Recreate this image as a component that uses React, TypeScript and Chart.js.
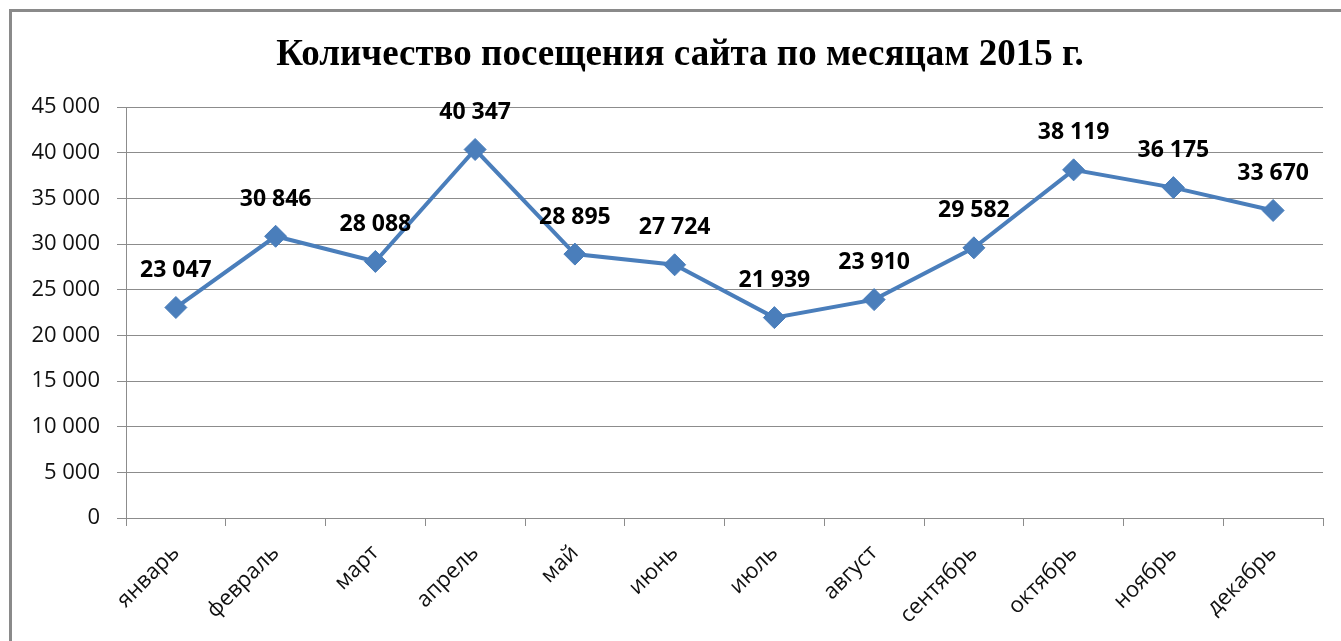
import React, { useEffect, useRef } from "react";
import { Chart, registerables } from "chart.js";

Chart.register(...registerables);

const months = [
  "январь", "февраль", "март", "апрель", "май", "июнь",
  "июль", "август", "сентябрь", "октябрь", "ноябрь", "декабрь",
];
const visits = [23047, 30846, 28088, 40347, 28895, 27724, 21939, 23910, 29582, 38119, 36175, 33670];
const titleText = "Количество посещения сайта по месяцам 2015 г.";
const yMin = 0;
const yMax = 45000;
const yStep = 5000;

const fmt = (v: number) => {
  const s = Math.round(v).toString();
  return s.replace(/\B(?=(\d{3})+(?!\d))/g, " ");
};

const framePlugin = {
  id: "frame",
  beforeDraw(chart: any) {
    const ctx = chart.ctx;
    ctx.save();
    ctx.fillStyle = "#ffffff";
    ctx.fillRect(0, 0, chart.width, chart.height);
    ctx.strokeStyle = "#8a8a8a";
    ctx.lineWidth = 3;
    ctx.strokeRect(10.5, 10.5, chart.width + 40, chart.height + 40);
    ctx.restore();
  },
  afterDraw(chart: any) {
    const ctx = chart.ctx;
    ctx.save();
    ctx.fillStyle = "#000000";
    ctx.font = "bold 37px 'Liberation Serif', 'Times New Roman', serif";
    ctx.textAlign = "center";
    ctx.textBaseline = "middle";
    ctx.fillText(titleText, 680, 55);
    ctx.restore();
  },
};

const labelPlugin = {
  id: "pointLabels",
  afterDatasetsDraw(chart: any) {
    const ctx = chart.ctx;
    const meta = chart.getDatasetMeta(0);
    const data = chart.data.datasets[0].data as number[];
    ctx.save();
    ctx.fillStyle = "#000000";
    ctx.font = "bold 23px 'Open Sans', sans-serif";
    ctx.textAlign = "center";
    ctx.textBaseline = "middle";
    meta.data.forEach((pt: any, i: number) => {
      ctx.fillText(fmt(data[i]), pt.x, pt.y - 37);
    });
    ctx.restore();
  },
};

export default function App() {
  const ref = useRef<HTMLCanvasElement | null>(null);
  useEffect(() => {
    document.body.style.margin = "0";
    if (!ref.current) return;
    const chart = new Chart(ref.current, {
      type: "line",
      data: {
        labels: months,
        datasets: [
          {
            data: visits,
            borderColor: "#4a7ebb",
            backgroundColor: "#4a7ebb",
            borderWidth: 4,
            pointStyle: "rectRot",
            pointRadius: 11,
            pointBorderWidth: 1,
            pointBorderColor: "#4a7ebb",
            pointBackgroundColor: "#4a7ebb",
            tension: 0,
            fill: false,
          },
        ],
      },
      options: {
        responsive: false,
        animation: false,
        layout: { padding: { top: 107, right: 18, left: 0, bottom: 0 } },
        plugins: {
          legend: { display: false },
          title: { display: false },
          tooltip: { enabled: false },
        },
        scales: {
          x: {
            type: "category",
            offset: true,
            grid: {
              offset: true,
              drawOnChartArea: false,
              drawTicks: true,
              tickLength: 8,
              color: "#8c8c8c",
              lineWidth: 1,
            },
            border: { display: true, color: "#8c8c8c", width: 1 },
            ticks: {
              maxRotation: 45,
              minRotation: 45,
              padding: 14,
              color: "#111111",
              font: { family: "'Open Sans', sans-serif", size: 22 },
            },
            afterFit(scale: any) {
              scale.height = 123;
            },
          },
          y: {
            min: yMin,
            max: yMax,
            grid: {
              color: "#8c8c8c",
              lineWidth: 1,
              drawTicks: true,
              tickLength: 9,
            },
            border: { display: true, color: "#8c8c8c", width: 1 },
            ticks: {
              stepSize: yStep,
              padding: 17,
              color: "#111111",
              font: { family: "'Open Sans', sans-serif", size: 22 },
              callback: (v: any) => fmt(Number(v)),
            },
            afterFit(scale: any) {
              scale.width = 126;
            },
          },
        },
      },
      plugins: [framePlugin, labelPlugin],
    });
    return () => chart.destroy();
  }, []);
  return (
    <div style={{ width: 1341, height: 641, position: "relative" }}>
      <canvas ref={ref} width={1341} height={641} style={{ display: "block" }} />
    </div>
  );
}
